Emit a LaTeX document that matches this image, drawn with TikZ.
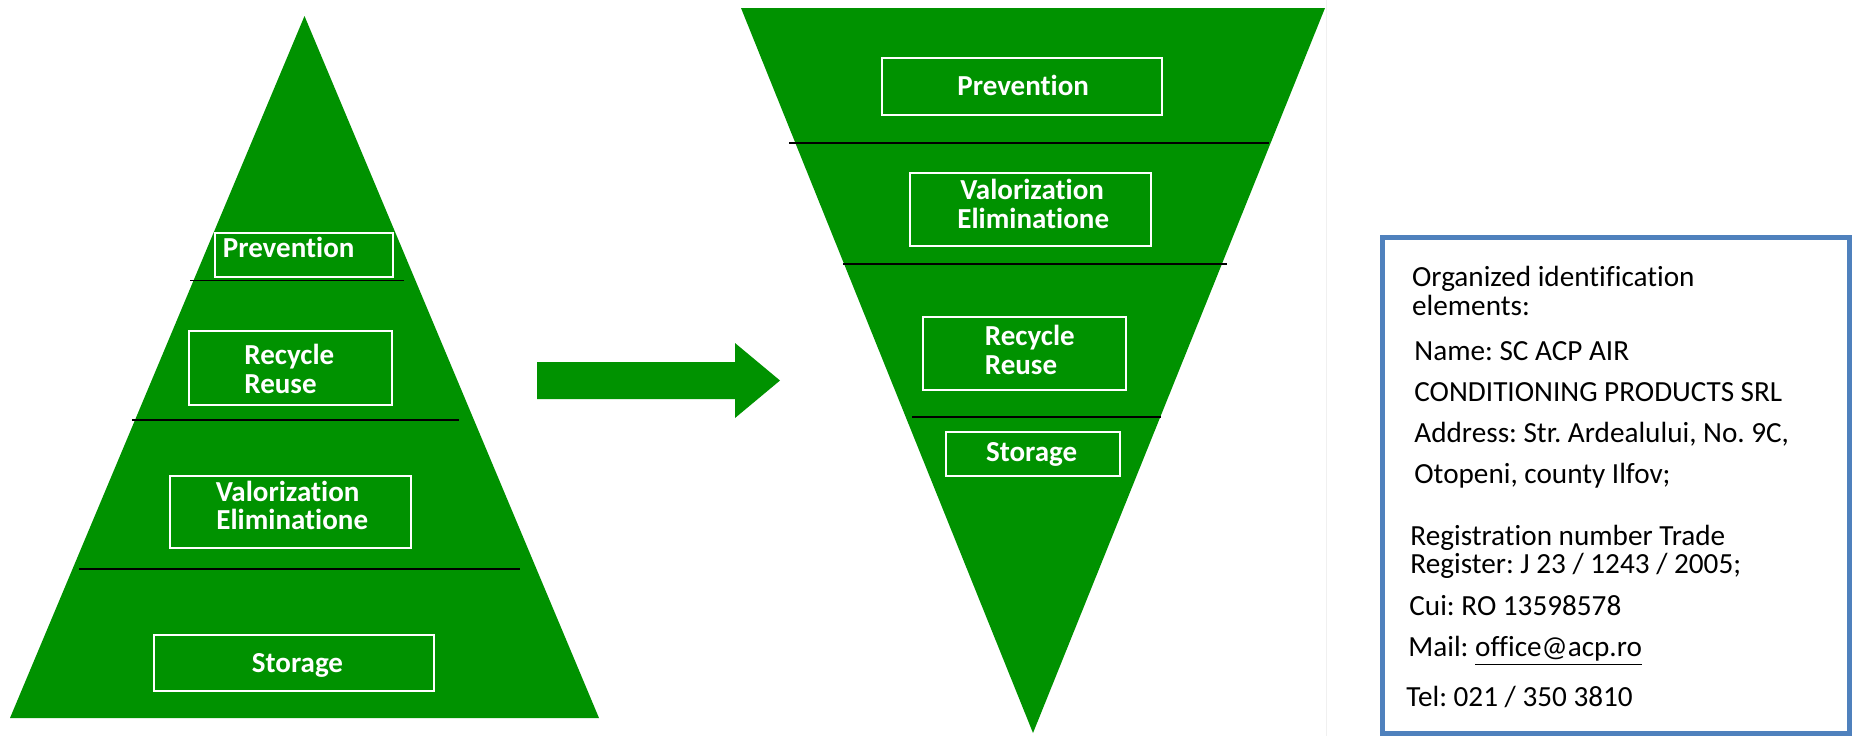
\documentclass[tikz,border=0pt]{standalone}
\usepackage{fontspec}
\setmainfont{Carlito}[Ligatures={NoCommon}]
\usetikzlibrary{fit}
\definecolor{pgreen}{RGB}{0,146,0}
\definecolor{bblue}{RGB}{79,129,189}
\tikzset{
  trifill/.style={fill=pgreen},
  lvbox/.style={draw=white, line width=1pt, inner sep=0pt},
  sepline/.style={draw=black, line width=0.9pt},
  lbl/.style={text=white, font=\bfseries\fontsize{14.5}{14.5}\selectfont, anchor=base west, inner sep=0pt},
  info/.style={text=black, font=\fontsize{14.6}{17}\selectfont, anchor=base west, inner sep=0pt},
  infobox/.style={draw=bblue, line width=2.5pt, fill=white}
}
\frenchspacing
\begin{document}
\frenchspacing
\begin{tikzpicture}[x=0.5pt,y=-0.5pt]
\useasboundingbox (0,0) rectangle (1853,736);
\fill[white] (0,0) rectangle (1853,736);
% faint vertical edge
\draw[black!6, line width=0.5pt] (1326,0) -- (1326,736);

% ---------- left pyramid ----------
\fill[trifill] (304.5,16) -- (599,718) -- (10,718) -- cycle;
\draw[sepline] (190,280.5) -- (404,280.5);
\draw[sepline] (132,420) -- (459,420);
\draw[sepline] (79,569) -- (520,569);

\node[lvbox, fit={(214.7,232.7) (392.6,277)}] (lprev) {};
\node[lbl] (lprevt) at (222.5,257) {Prevention};
\node[lvbox, fit={(189,331) (392,405)}] (lrec) {};
\node[lbl] (lrect1) at (244,364.7) {Recycle};
\node[lbl] (lrect2) at (244,393) {Reuse};
\node[lvbox, fit={(170,476) (411,548)}] (lval) {};
\node[lbl] (lvalt1) at (215.5,501) {Valorization};
\node[lbl] (lvalt2) at (216,529.5) {Eliminatione};
\node[lvbox, fit={(154,635) (434,691)}] (lsto) {};
\node[lbl] (lstot) at (251.5,672) {Storage};

% ---------- block arrow ----------
\fill[pgreen] (537,362) -- (735,362) -- (735,343) -- (780,380.5) -- (735,418) -- (735,399) -- (537,399) -- cycle;

% ---------- right inverted pyramid ----------
\fill[trifill] (741,8) -- (1325,8) -- (1033,733) -- cycle;
\draw[sepline] (789,143) -- (1269,143);
\draw[sepline] (843,264) -- (1227,264);
\draw[sepline] (912,417) -- (1161,417);

\node[lvbox, fit={(882,58) (1162,115)}] (rprev) {};
\node[lbl] (rprevt) at (957,95.3) {Prevention};
\node[lvbox, fit={(910,173) (1151,246)}] (rval) {};
\node[lbl] (rvalt1) at (960,199.5) {Valorization};
\node[lbl] (rvalt2) at (957,228.6) {Eliminatione};
\node[lvbox, fit={(923,317) (1126,390)}] (rrec) {};
\node[lbl] (rrect1) at (984.5,345) {Recycle};
\node[lbl] (rrect2) at (984.5,374) {Reuse};
\node[lvbox, fit={(946,432) (1120,476)}] (rsto) {};
\node[lbl] (rstot) at (985.7,461) {Storage};

% ---------- info box ----------
\draw[infobox] (1382.5,237.5) rectangle (1849,733.5);
\node[info] (i1) at (1411.7,286.7) {Organized identification};
\node[info] (i2) at (1411.7,315) {elements:};
\node[info] (i3) at (1414,360.7) {Name: SC ACP AIR};
\node[info] (i4) at (1414,401.7) {CONDITIONING PRODUCTS SRL};
\node[info] (i5) at (1414,442.7) {Address: Str. Ardealului, No. 9C,};
\node[info] (i6) at (1414,483.3) {Otopeni, county Ilfov;};
\node[info] (i7) at (1410,545) {Registration number Trade};
\node[info] (i8) at (1410,573.3) {Register: J 23 / 1243 / 2005;};
\node[info] (i9) at (1409,615) {Cui: RO 13598578};
\node[info] (i10) at (1408,656.7) {Mail: \underline{office@acp.ro}};
\node[info] (i11) at (1406,706.7) {Tel: 021 / 350 3810};
\end{tikzpicture}
\end{document}
